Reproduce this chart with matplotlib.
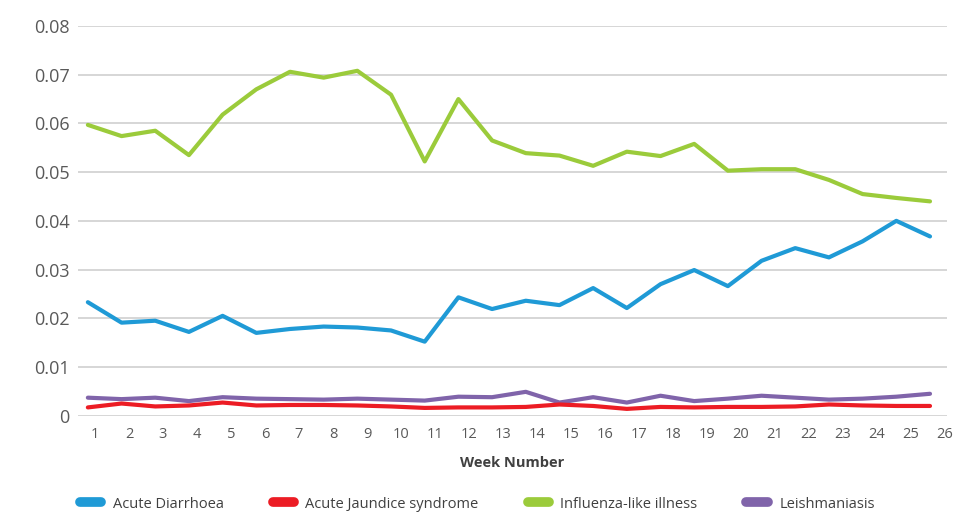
import numpy as np
import matplotlib
matplotlib.use("Agg")
import matplotlib.pyplot as plt
from matplotlib.lines import Line2D

plt.rcParams['font.family'] = ['Open Sans', 'DejaVu Sans']

weeks = list(range(1, 27))
week_labels = [str(w) for w in weeks]

acute_diarrhoea = [0.0233, 0.0191, 0.0195, 0.0172, 0.0205, 0.0170, 0.0178, 0.0183, 0.0181,
                   0.0175, 0.0152, 0.0243, 0.0219, 0.0236, 0.0227, 0.0262, 0.0221, 0.0270,
                   0.0299, 0.0266, 0.0318, 0.0344, 0.0325, 0.0358, 0.0400, 0.0368]
acute_jaundice = [0.0017, 0.0025, 0.0019, 0.0021, 0.0027, 0.0021, 0.0022, 0.0022, 0.0021,
                  0.0019, 0.0016, 0.0017, 0.0017, 0.0018, 0.0023, 0.0020, 0.0014, 0.0018,
                  0.0017, 0.0018, 0.0018, 0.0019, 0.0023, 0.0021, 0.0020, 0.0020]
influenza_like = [0.0597, 0.0574, 0.0585, 0.0535, 0.0618, 0.0670, 0.0706, 0.0694, 0.0708,
                  0.0659, 0.0522, 0.0650, 0.0565, 0.0539, 0.0534, 0.0513, 0.0542, 0.0533,
                  0.0558, 0.0503, 0.0506, 0.0506, 0.0484, 0.0455, 0.0447, 0.0440]
leishmaniasis = [0.0037, 0.0034, 0.0037, 0.0030, 0.0038, 0.0035, 0.0034, 0.0033, 0.0035,
                 0.0033, 0.0031, 0.0039, 0.0038, 0.0049, 0.0027, 0.0038, 0.0027, 0.0041,
                 0.0030, 0.0035, 0.0041, 0.0037, 0.0033, 0.0035, 0.0039, 0.0045]

series_names = ["Acute Diarrhoea", "Acute Jaundice syndrome", "Influenza-like illness", "Leishmaniasis"]
series_values = [acute_diarrhoea, acute_jaundice, influenza_like, leishmaniasis]
colors = ["#1f9ad6", "#ec1c24", "#9bcb3b", "#8064aa"]

y_ticks = [0, 0.01, 0.02, 0.03, 0.04, 0.05, 0.06, 0.07, 0.08]
y_labels = ["0", "0.01", "0.02", "0.03", "0.04", "0.05", "0.06", "0.07", "0.08"]

fig = plt.figure(figsize=(9.66, 5.14), dpi=100)
ax = fig.add_axes([78/966, 1-415.7/514, (947-78)/966, (415.7-26)/514])

# data points sit slightly left of the week labels in the original
x_pos = np.linspace(0.79, 25.56, len(weeks))

# draw order: green behind, then blue, purple, red
order = [2, 0, 3, 1]
for i in order:
    ax.plot(x_pos, series_values[i], color=colors[i], lw=3.0,
            solid_joinstyle='round', solid_capstyle='round', zorder=3)

ax.set_xlim(0.5, 26.06)
ax.set_ylim(0, 0.08)
ax.set_yticks(y_ticks)
ax.set_yticklabels(y_labels)
ax.set_xticks(weeks)
ax.set_xticklabels(week_labels)
ax.tick_params(axis='y', length=0, pad=6, labelsize=13, labelcolor='#595959')
ax.tick_params(axis='x', length=0, pad=8, labelsize=10.5, labelcolor='#595959')
for s in ax.spines.values():
    s.set_visible(False)
ax.grid(axis='y', color='#d0d0d0', lw=1.2, zorder=0)
ax.set_axisbelow(True)
ax.set_xlabel("Week Number", fontsize=10.5, fontweight='bold', color='#404040', labelpad=10)

handles = [Line2D([0], [0], color=colors[i], lw=7, solid_capstyle='round') for i in range(4)]
fig.legend(handles, series_names, loc='center left', bbox_to_anchor=(80/966, 1-504/514),
           ncol=4, frameon=False, fontsize=10.5, handlelength=1.45, handletextpad=0.8,
           columnspacing=3.35, borderpad=0, borderaxespad=0, labelcolor='#404040')

fig.savefig("out.png", dpi=100)
